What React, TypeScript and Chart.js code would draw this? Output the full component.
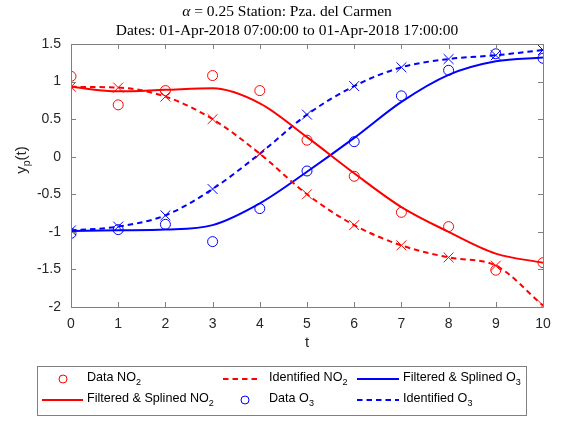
import React, { useEffect, useRef } from "react";
import { Chart, registerables } from "chart.js";

Chart.register(...registerables);

const tValues = [0, 1, 2, 3, 4, 5, 6, 7, 8, 9, 10];
const dataNO2 = [1.07, 0.69, 0.88, 1.08, 0.88, 0.22, -0.26, -0.74, -0.93, -1.51, -1.41];
const splineNO2 = [0.93, 0.87, 0.89, 0.91, 0.71, 0.26, -0.22, -0.67, -1.0, -1.29, -1.41];
const identNO2 = [0.93, 0.92, 0.8, 0.5, 0.04, -0.5, -0.91, -1.18, -1.34, -1.45, -1.98];
const dataO3 = [-1.02, -0.97, -0.9, -1.13, -0.69, -0.19, 0.2, 0.81, 1.15, 1.37, 1.31];
const splineO3 = [-0.99, -0.98, -0.97, -0.91, -0.62, -0.2, 0.25, 0.73, 1.09, 1.27, 1.32];
const identO3 = [-0.98, -0.93, -0.78, -0.43, 0.04, 0.56, 0.94, 1.19, 1.3, 1.35, 1.42];

const xTicks = [0, 1, 2, 3, 4, 5, 6, 7, 8, 9, 10];
const yTicks = [-2, -1.5, -1, -0.5, 0, 0.5, 1, 1.5];

const RED = "#ff0000";
const BLUE = "#0000ff";
const SANS = "'Liberation Sans', Arial, sans-serif";
const SERIF = "'Liberation Serif', 'Times New Roman', serif";

const pts = (ys: number[]) => ys.map((y, i) => ({ x: tValues[i], y }));

function drawSub(ctx: CanvasRenderingContext2D, x: number, y: number, main: string, sub: string, size: number) {
  ctx.font = `${size}px ${SANS}`;
  ctx.fillText(main, x, y);
  const w = ctx.measureText(main).width;
  ctx.font = `${size * 0.72}px ${SANS}`;
  ctx.fillText(sub, x + w, y + size * 0.35);
}

const decorPlugin = {
  id: "decor",
  afterDatasetsDraw(chart: any) {
    const ctx: CanvasRenderingContext2D = chart.ctx;
    const { left, right, top, bottom } = chart.chartArea;
    const xs = chart.scales.x;
    const ys = chart.scales.y;
    ctx.save();
    // box
    ctx.strokeStyle = "#808080";
    ctx.lineWidth = 1;
    ctx.beginPath();
    ctx.rect(Math.round(left) + 0.5, Math.round(top) + 0.5, Math.round(right - left), Math.round(bottom - top));
    ctx.stroke();
    // inward ticks
    const tl = 5;
    ctx.beginPath();
    for (const v of xTicks) {
      const px = Math.round(xs.getPixelForValue(v)) + 0.5;
      ctx.moveTo(px, top);
      ctx.lineTo(px, top + tl);
      ctx.moveTo(px, bottom);
      ctx.lineTo(px, bottom - tl);
    }
    for (const v of yTicks) {
      const py = Math.round(ys.getPixelForValue(v)) + 0.5;
      ctx.moveTo(left, py);
      ctx.lineTo(left + tl, py);
      ctx.moveTo(right, py);
      ctx.lineTo(right - tl, py);
    }
    ctx.stroke();

    // title
    ctx.fillStyle = "#000";
    ctx.textBaseline = "middle";
    const cx = 287;
    const t1a = "\u03b1";
    const t1b = " = 0.25 Station: Pza. del Carmen";
    ctx.font = `italic 15.5px ${SERIF}`;
    const wa = ctx.measureText(t1a).width;
    ctx.font = `15.5px ${SERIF}`;
    const wb = ctx.measureText(t1b).width;
    const sx = cx - (wa + wb) / 2;
    ctx.textAlign = "left";
    ctx.font = `italic 15.5px ${SERIF}`;
    ctx.fillText(t1a, sx, 12);
    ctx.font = `15.5px ${SERIF}`;
    ctx.fillText(t1b, sx + wa, 12);
    ctx.textAlign = "center";
    ctx.fillText("Dates: 01-Apr-2018 07:00:00 to 01-Apr-2018 17:00:00", cx, 31);

    // axis labels
    ctx.fillStyle = "#262626";
    ctx.font = `15px ${SANS}`;
    ctx.textAlign = "center";
    ctx.fillText("t", (left + right) / 2, 343);
    ctx.save();
    ctx.translate(22, 160);
    ctx.rotate(-Math.PI / 2);
    ctx.textAlign = "left";
    ctx.font = `15px ${SANS}`;
    const wy = ctx.measureText("y").width;
    ctx.font = `10.5px ${SANS}`;
    const wp = ctx.measureText("p").width;
    ctx.font = `15px ${SANS}`;
    const wt = ctx.measureText("(t)").width;
    const total = wy + wp + wt;
    const x0 = -total / 2;
    ctx.fillText("y", x0, 0);
    ctx.font = `10.5px ${SANS}`;
    ctx.fillText("p", x0 + wy, 5);
    ctx.font = `15px ${SANS}`;
    ctx.fillText("(t)", x0 + wy + wp, 0);
    ctx.restore();

    // legend
    const lx = 37.5, ly = 366.5, lw = 489, lh = 49;
    ctx.fillStyle = "#fff";
    ctx.fillRect(lx, ly, lw, lh);
    ctx.strokeStyle = "#808080";
    ctx.lineWidth = 1;
    ctx.strokeRect(lx, ly, lw, lh);
    const r1 = 379, r2 = 400;
    const fs = 12.6;
    const circle = (x: number, y: number, c: string) => {
      ctx.strokeStyle = c;
      ctx.lineWidth = 1;
      ctx.setLineDash([]);
      ctx.beginPath();
      ctx.arc(x, y, 4, 0, Math.PI * 2);
      ctx.stroke();
    };
    const line = (x1: number, x2: number, y: number, c: string, dashed: boolean) => {
      ctx.strokeStyle = c;
      ctx.lineWidth = 2;
      ctx.setLineDash(dashed ? [5.5, 4] : []);
      ctx.beginPath();
      ctx.moveTo(x1, y);
      ctx.lineTo(x2, y);
      ctx.stroke();
      ctx.setLineDash([]);
    };
    circle(63, r1, RED);
    line(223, 261, r1, RED, true);
    line(357, 399, r1, BLUE, false);
    line(42, 83, r2, RED, false);
    circle(245, r2, BLUE);
    line(357, 399, r2, BLUE, true);
    ctx.fillStyle = "#000";
    ctx.textAlign = "left";
    ctx.textBaseline = "middle";
    drawSub(ctx, 87, r1 - 1, "Data NO", "2", fs);
    drawSub(ctx, 269, r1 - 1, "Identified NO", "2", fs);
    drawSub(ctx, 403, r1 - 1, "Filtered & Splined O", "3", fs);
    drawSub(ctx, 87, r2 - 1, "Filtered & Splined NO", "2", fs);
    drawSub(ctx, 269, r2 - 1, "Data O", "3", fs);
    drawSub(ctx, 403, r2 - 1, "Identified O", "3", fs);
    ctx.restore();
  },
};

export default function App() {
  const ref = useRef<HTMLCanvasElement | null>(null);
  useEffect(() => {
    if (!ref.current) return;
    const chart = new Chart(ref.current, {
      type: "line",
      data: {
        datasets: [
          {
            label: "Data NO2",
            data: pts(dataNO2),
            showLine: false,
            borderColor: RED,
            backgroundColor: "transparent",
            pointStyle: "circle",
            pointRadius: 5,
            pointBorderWidth: 1,
          },
          {
            label: "Filtered & Splined NO2",
            data: pts(splineNO2),
            borderColor: RED,
            borderWidth: 2,
            pointRadius: 0,
            cubicInterpolationMode: "monotone",
          },
          {
            label: "Identified NO2",
            data: pts(identNO2),
            borderColor: RED,
            borderWidth: 2,
            borderDash: [5.5, 4],
            pointStyle: "crossRot",
            pointRadius: 7,
            pointBorderWidth: 1,
            backgroundColor: "transparent",
            cubicInterpolationMode: "monotone",
          },
          {
            label: "Data O3",
            data: pts(dataO3),
            showLine: false,
            borderColor: BLUE,
            backgroundColor: "transparent",
            pointStyle: "circle",
            pointRadius: 5,
            pointBorderWidth: 1,
          },
          {
            label: "Filtered & Splined O3",
            data: pts(splineO3),
            borderColor: BLUE,
            borderWidth: 2,
            pointRadius: 0,
            cubicInterpolationMode: "monotone",
          },
          {
            label: "Identified O3",
            data: pts(identO3),
            borderColor: BLUE,
            borderWidth: 2,
            borderDash: [5.5, 4],
            pointStyle: "crossRot",
            pointRadius: 7,
            pointBorderWidth: 1,
            backgroundColor: "transparent",
            cubicInterpolationMode: "monotone",
          },
        ],
      },
      options: {
        responsive: false,
        animation: false,
        layout: { padding: { left: 0, top: 44, right: 18, bottom: 0 } },
        plugins: {
          legend: { display: false },
          title: { display: false },
          tooltip: { enabled: false },
        },
        scales: {
          x: {
            type: "linear",
            min: 0,
            max: 10,
            grid: { display: false, drawTicks: false },
            border: { display: false },
            afterFit: (s: any) => {
              s.height = 114;
            },
            afterBuildTicks: (s: any) => {
              s.ticks = xTicks.map((v) => ({ value: v }));
            },
            ticks: {
              padding: 9,
              maxRotation: 0,
              color: "#262626",
              font: { family: SANS, size: 14 },
              callback: (v: any) => String(v),
            },
          },
          y: {
            type: "linear",
            min: -2,
            max: 1.5,
            grid: { display: false, drawTicks: false },
            border: { display: false },
            afterFit: (s: any) => {
              s.width = 71;
            },
            afterBuildTicks: (s: any) => {
              s.ticks = yTicks.map((v) => ({ value: v }));
            },
            ticks: {
              padding: 10,
              color: "#262626",
              font: { family: SANS, size: 14 },
              callback: (v: any) => String(v),
            },
          },
        },
      },
      plugins: [decorPlugin],
    });
    return () => chart.destroy();
  }, []);
  return (
    <div style={{ position: "fixed", left: 0, top: 0, width: 561, height: 421, background: "#fff" }}>
      <canvas ref={ref} width={561} height={421} style={{ width: 561, height: 421, display: "block" }} />
    </div>
  );
}
